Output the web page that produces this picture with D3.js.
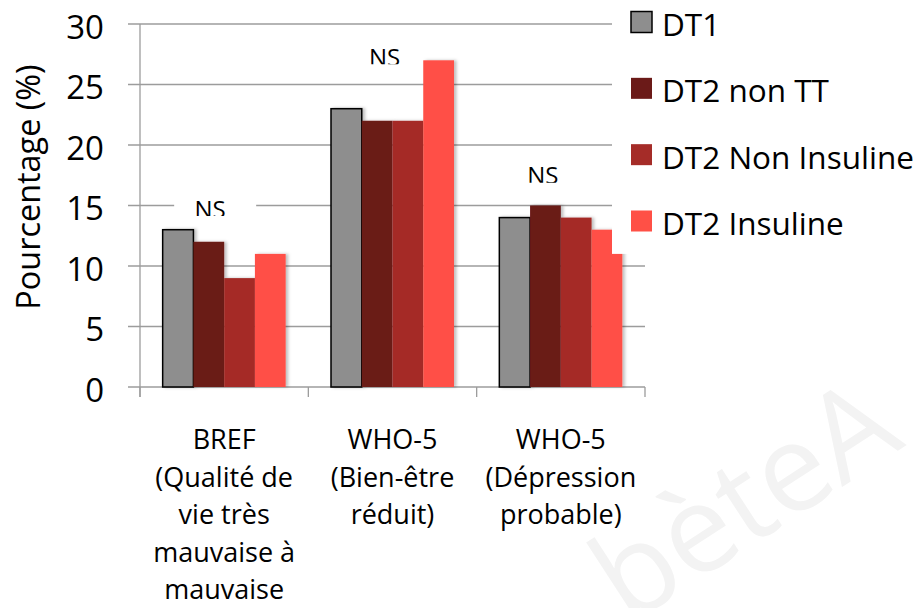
<!DOCTYPE html>
<html lang="fr">
<head>
    <meta charset="UTF-8">
    <title>Pourcentage par score et type de diabète</title>
    <script src="https://d3js.org/d3.v7.min.js"></script>
    <style>
        body {
            margin: 0;
            background: #fff;
            font-family: "Open Sans", sans-serif;
        }
        .grid line {
            stroke: #9c9c9c;
            stroke-width: 1.3px;
        }
        .tick-label {
            font-size: 33px;
            fill: #000;
        }
        .cat-label {
            font-size: 27px;
            fill: #000;
        }
        .legend text {
            font-size: 31.5px;
            fill: #000;
        }
    </style>
</head>
<body>

    <svg width="922" height="608"></svg>

    <script>
        // Data
        const categories = [
            ["BREF", "(Qualité de", "vie très", "mauvaise à", "mauvaise"],
            ["WHO-5", "(Bien-être", "réduit)"],
            ["WHO-5", "(Dépression", "probable)"]
        ];
        const series = ["DT1", "DT2 non TT", "DT2 Non Insuline", "DT2 Insuline"];
        const dt1 = [13, 23, 14];
        const dt2NonTT = [12, 22, 15];
        const dt2NonInsuline = [9, 22, 14];
        const dt2Insuline = [11, 27, 13];
        const yTicks = [0, 5, 10, 15, 20, 25, 30];
        const nsLevels = [15.45, 28, 18.2]; // where the "NS" notes sit

        const values = [dt1, dt2NonTT, dt2NonInsuline, dt2Insuline];
        const colors = ["#8e8e8e", "#6b1a18", "#a52c28", "#ff5046"];

        const svg = d3.select("svg");
        const catIds = categories.map((c, i) => i);

        // Scales
        const x0 = d3.scaleBand().domain(catIds).range([140, 645]);
        const x1 = d3.scaleBand().domain(series).range([0, x0.bandwidth()])
            .paddingInner(0).paddingOuter(0.737);
        const y = d3.scaleLinear().domain([0, 30]).range([387, 24]);

        // shadow for bars
        const defs = svg.append("defs");
        defs.append("filter").attr("id", "shadow")
            .attr("x", "-20%").attr("y", "-10%").attr("width", "140%").attr("height", "120%")
            .append("feDropShadow")
            .attr("dx", 2.5).attr("dy", 0).attr("stdDeviation", 1.5)
            .attr("flood-color", "#000").attr("flood-opacity", 0.25);

        // Watermark
        svg.append("text")
            .attr("transform", "translate(628,626) rotate(-33)")
            .attr("font-size", 122)
            .attr("fill", "#f3f3f3")
            .text("bèteA");

        // Gridlines
        svg.append("g").attr("class", "grid")
            .selectAll("line")
            .data(yTicks)
            .join("line")
            .attr("x1", 128).attr("x2", 645)
            .attr("y1", d => y(d)).attr("y2", d => y(d));

        // Axes lines
        svg.append("line")
            .attr("x1", 140).attr("x2", 140)
            .attr("y1", y(30)).attr("y2", y(0) + 10)
            .attr("stroke", "#9c9c9c").attr("stroke-width", 1.3);
        svg.append("g").attr("class", "grid")
            .selectAll("line")
            .data(catIds.concat([3]))
            .join("line")
            .attr("x1", d => d < 3 ? x0(d) : x0.range()[1])
            .attr("x2", d => d < 3 ? x0(d) : x0.range()[1])
            .attr("y1", y(0)).attr("y2", y(0) + 10);

        // Y tick labels
        svg.append("g")
            .selectAll("text")
            .data(yTicks)
            .join("text")
            .attr("class", "tick-label")
            .attr("x", 104)
            .attr("y", d => y(d))
            .attr("dy", "0.45em")
            .attr("text-anchor", "end")
            .text(d => d);

        // Y axis title
        svg.append("text")
            .attr("transform", "translate(40,187) rotate(-90)")
            .attr("text-anchor", "middle")
            .attr("font-size", 32.4)
            .text("Pourcentage (%)");

        // NS notes (white text box with clipped text)
        const nsOffset = [-14, -8, -18];
        const ns = svg.append("g");
        catIds.forEach(i => {
            const cx = x0(i) + x0.bandwidth() / 2 + nsOffset[i];
            const top = y(nsLevels[i]);
            ns.append("rect")
                .attr("x", cx - 36).attr("y", top - 6)
                .attr("width", 82).attr("height", 20)
                .attr("fill", "#fff");
            defs.append("clipPath").attr("id", "nsclip" + i)
                .append("rect")
                .attr("x", cx - 40).attr("y", top - 8)
                .attr("width", 80).attr("height", 24);
            ns.append("text")
                .attr("clip-path", `url(#nsclip${i})`)
                .attr("x", cx).attr("y", top + 17.5)
                .attr("text-anchor", "middle")
                .attr("font-size", 24)
                .text("NS");
        });

        // Bars
        const groups = svg.append("g")
            .selectAll("g")
            .data(catIds)
            .join("g")
            .attr("transform", d => `translate(${x0(d)},0)`);

        groups.selectAll("rect")
            .data(i => series.map((s, k) => ({ s, k, v: values[k][i] })))
            .join("rect")
            .attr("x", d => x1(d.s))
            .attr("width", x1.bandwidth())
            .attr("y", d => y(d.v))
            .attr("height", d => y(0) - y(d.v))
            .attr("fill", d => colors[d.k])
            .attr("stroke", d => d.k === 0 ? "#000" : "none")
            .attr("stroke-width", 1.5)
            .attr("filter", "url(#shadow)");

        // White legend box sitting over the plot
        svg.append("rect")
            .attr("x", 612).attr("y", 0)
            .attr("width", 310).attr("height", y(11))
            .attr("fill", "#fff");

        // Legend
        const legend = svg.append("g").attr("class", "legend");
        const ly = d3.scalePoint().domain(series).range([22, 221]);
        series.forEach((s, k) => {
            legend.append("rect")
                .attr("x", 631).attr("y", ly(s) - 10.5)
                .attr("width", 21).attr("height", 21)
                .attr("fill", colors[k])
                .attr("stroke", k === 0 ? "#000" : "none")
                .attr("stroke-width", 1.5);
            legend.append("text")
                .attr("x", 662).attr("y", ly(s) + 14)
                .text(s);
        });

        // Category labels
        const cats = svg.append("g");
        categories.forEach((lines, i) => {
            const t = cats.append("text")
                .attr("class", "cat-label")
                .attr("text-anchor", "middle");
            lines.forEach((line, j) => {
                t.append("tspan")
                    .attr("x", x0(i) + x0.bandwidth() / 2)
                    .attr("y", 449 + j * 37.5)
                    .text(line);
            });
        });
    </script>

</body>
</html>
